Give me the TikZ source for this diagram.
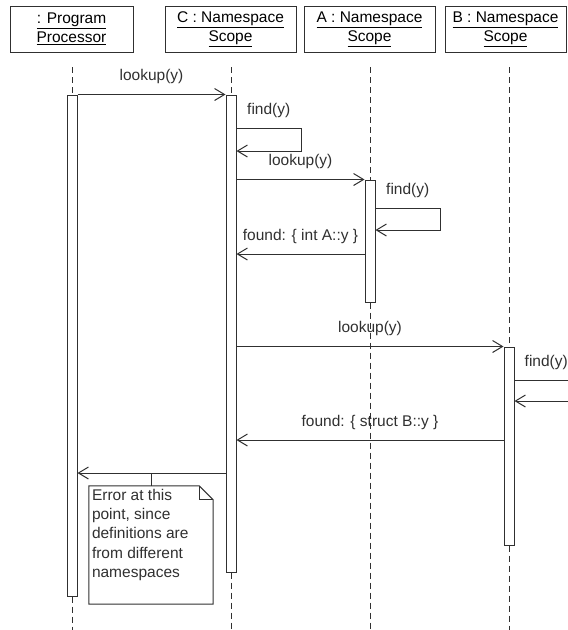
\documentclass[tikz,border=0pt]{standalone}
\usepackage{fontspec}
\setmainfont{Liberation Sans}
\usepackage{xcolor}
\usetikzlibrary{arrows.meta}
\definecolor{ink}{HTML}{303030}
\tikzstyle{head}=[draw=ink, line width=1pt, minimum height=46pt, inner sep=0pt, align=center, font=\fontsize{15.5}{19}\selectfont]
\tikzstyle{act}=[draw=ink, fill=white, line width=1pt, minimum width=10pt, inner sep=0pt]
\tikzstyle{life}=[draw=ink, line width=1pt, dash pattern=on 6pt off 4pt]
\tikzstyle{wire}=[draw=ink, line width=1pt]
\tikzstyle{msg}=[wire, -{Straight Barb[length=10pt,width=12pt]}]
\tikzstyle{lbl}=[midway, yshift=18pt, text=ink, font=\fontsize{15.5}{19}\selectfont]
\tikzstyle{notetxt}=[inner sep=3pt, align=left, text=ink, font=\fontsize{15.5}{19.3}\selectfont]

\begin{document}
\begin{tikzpicture}[x=1pt, y=-1pt]
\useasboundingbox (0,0) rectangle (568,630);
% objects
\node[head, minimum width=123pt] (hP) at (71.5,29) {\underline{: Program}\\\underline{Processor}};
\node[head, minimum width=131pt] (hC) at (230.5,29) {\underline{C : Namespace}\\\underline{Scope}};
\node[head, minimum width=131pt] (hA) at (369.5,29) {\underline{A : Namespace}\\\underline{Scope}};
\node[head, minimum width=121pt] (hB) at (505.5,29) {\underline{B : Namespace}\\\underline{Scope}};

% activation bars
\node[act, minimum height=501pt] (actP) at (72,345.5) {};
\node[act, minimum height=477pt] (actC) at (231,333.5) {};
\node[act, minimum height=122pt] (actA) at (370,241) {};
\node[act, minimum height=198pt] (actB) at (509,446) {};

% lifelines
\coordinate (top) at (0,67);
\coordinate (bot) at (0,630);
\foreach \o in {P,C,A,B} {
	\draw[life] (act\o.north |- top) -- (act\o.north);
	\draw[life] (act\o.south) -- (act\o.south |- bot);
}

% calls and returns
\coordinate (y3) at (0,254);
\coordinate (y5) at (0,440);
\coordinate (y6) at (0,473);
\draw[msg] (actP.north east) -- node[lbl] {lookup(y)} (actC.north west);
\draw[msg] (actC.east |- actA.north) -- node[lbl] {lookup(y)} (actA.north west);
\draw[msg] (actA.west |- y3) -- node[lbl] {found: \{ int A::y \}} (actC.east |- y3);
\draw[msg] (actC.east |- actB.north) -- node[lbl] {lookup(y)} (actB.north west);
\draw[msg] (actB.west |- y5) -- node[lbl] {found: \{ struct B::y \}} (actC.east |- y5);
\draw[msg] (actC.west |- y6) -- (actP.east |- y6);

% self calls
\coordinate (cC1) at (301,128);
\coordinate (cC2) at (301,151);
\draw[msg] (actC.east |- cC1) -- node[lbl] {find(y)} (cC1) -- (cC2) -- (actC.east |- cC2);
\coordinate (cA1) at (440,208);
\coordinate (cA2) at (440,230);
\draw[msg] (actA.east |- cA1) -- node[lbl] {find(y)} (cA1) -- (cA2) -- (actA.east |- cA2);
\coordinate (cB1) at (568,380);
\coordinate (cB2) at (568,401);
\draw[wire] (actB.east |- cB1) -- node[lbl, xshift=5pt] {find(y)} (cB1);
\draw[msg] (cB2) -- (actB.east |- cB2);

% note on the last return
\node[minimum width=124pt, minimum height=118pt, inner sep=0pt] (note) at (151,545) {};
\draw[wire] (note.north west) -- ([xshift=-14pt]note.north east) -- ([yshift=-14pt]note.north east) -- (note.south east) -- (note.south west) -- cycle;
\draw[wire] ([xshift=-14pt]note.north east) |- ([yshift=-14pt]note.north east);
\node[notetxt, anchor=north west] (notet) at (note.north west) {Error at this\\point, since\\definitions are\\from different\\namespaces};
\draw[wire] (note.north) -- (note.north |- y6);
\end{tikzpicture}
\end{document}
